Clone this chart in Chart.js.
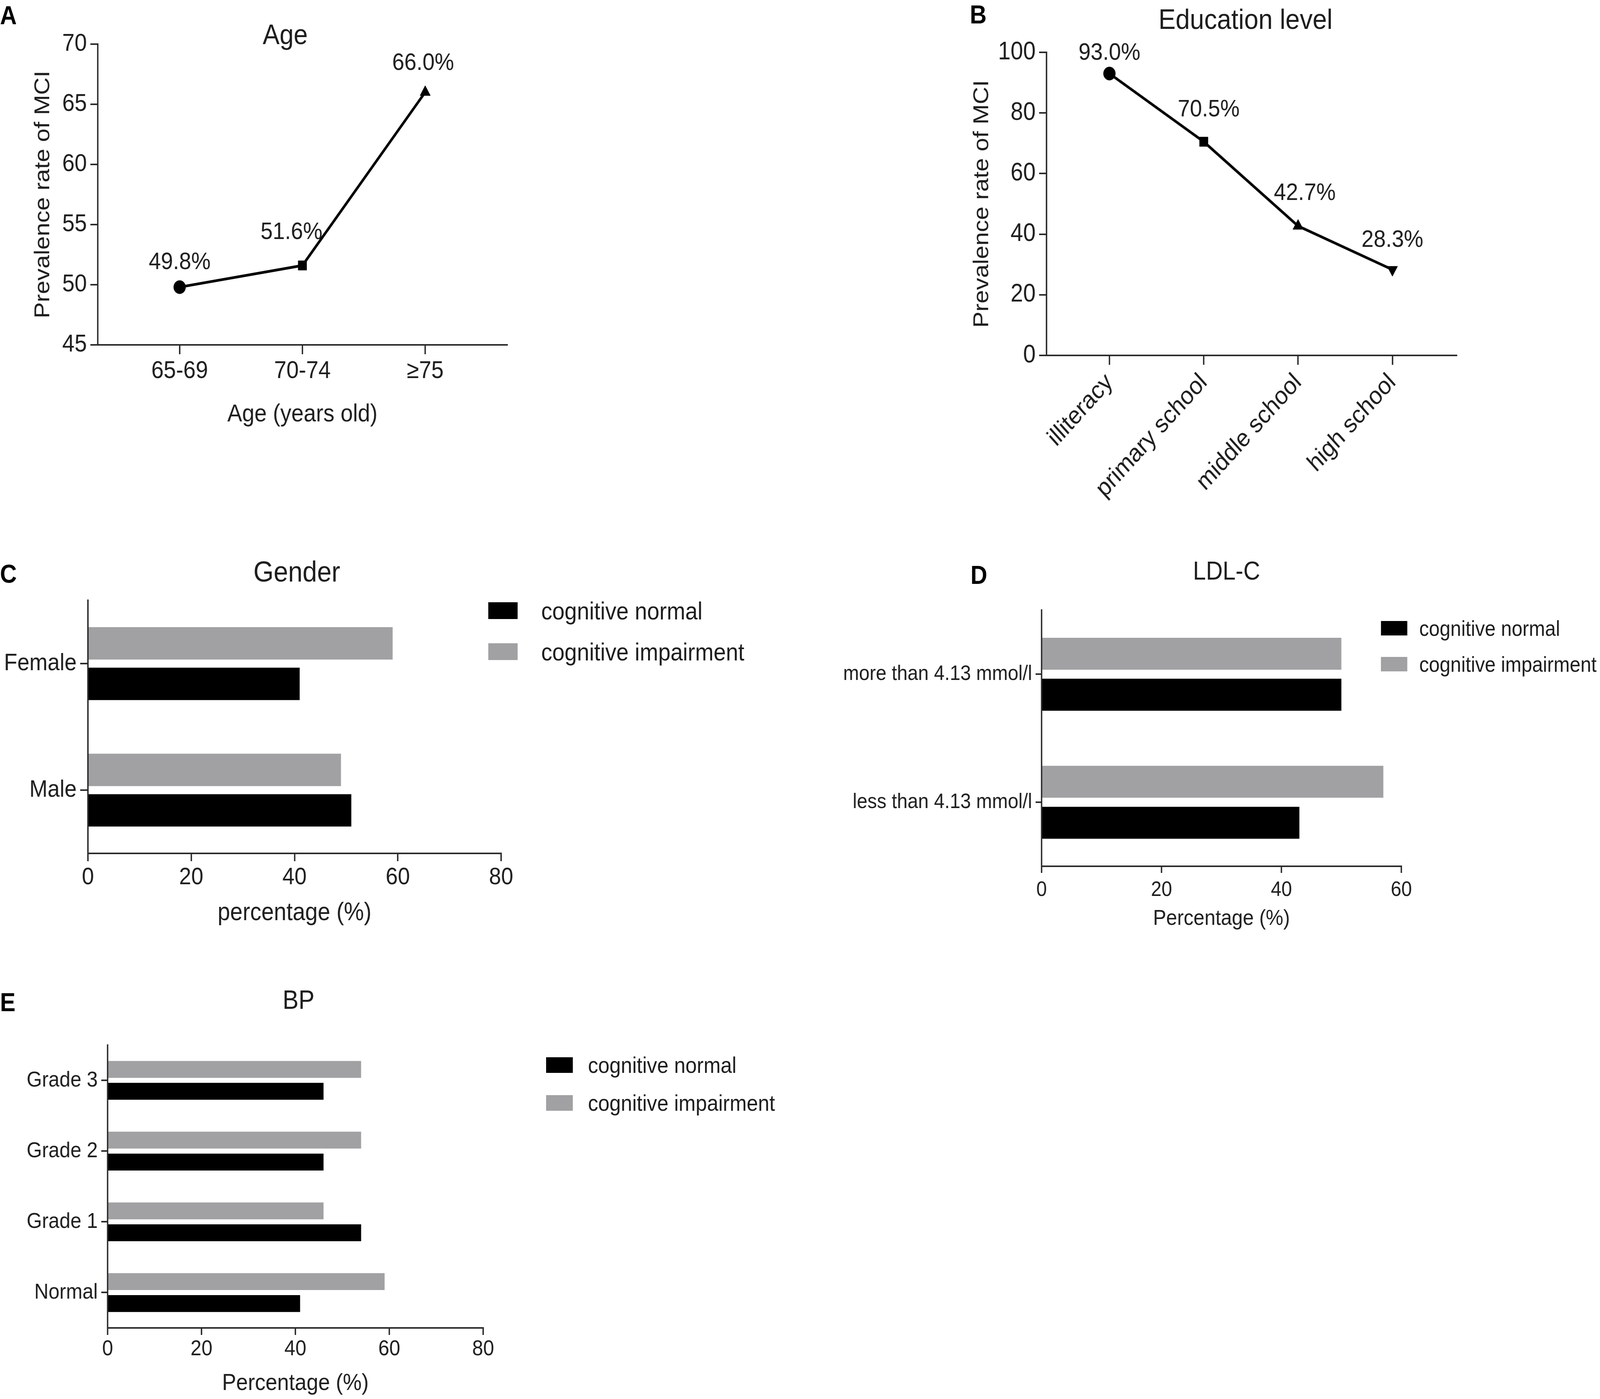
<!DOCTYPE html>
<html>
<head>
<meta charset="utf-8">
<title>Prevalence of MCI</title>
<script src="https://cdn.jsdelivr.net/npm/chart.js@4.4.1/dist/chart.umd.min.js"></script>
<style>
  html, body { margin: 0; padding: 0; background: #fff; overflow: hidden; }
  body { font-family: 'Liberation Sans', Arial, Helvetica, sans-serif; color: #1e1e1e; }
  #page { position: absolute; left: 0; top: 0; width: 4550px; height: 3582px; overflow: hidden;
          transform-origin: 0 0; background: #fff; }
  canvas { position: absolute; }
  .letter { position: absolute; font-weight: bold; font-size: 66px; line-height: 1; color: #000; }
  .title { position: absolute; line-height: 1; white-space: nowrap; transform: translate(-50%, -50%); }
  .key { position: absolute; z-index: 2; }
  .key .box { position: absolute; }
  .key .txt { position: absolute; line-height: 1; white-space: nowrap; transform: translateY(-50%); }
</style>
</head>
<body>
<div id="page">
<div class="letter" style="left:0px;top:6px">A</div>
<div class="letter" style="left:2758px;top:4px">B</div>
<div class="letter" style="left:0px;top:1436px">C</div>
<div class="letter" style="left:2760px;top:1439px">D</div>
<div class="letter" style="left:0px;top:2533px">E</div>

<canvas id="ageChart"></canvas>
<canvas id="eduChart"></canvas>
<canvas id="genderChart"></canvas>
<canvas id="ldlChart"></canvas>
<canvas id="bpChart"></canvas>
</div>

<script>
// A: prevalence by age group
var ageLabels = ['65-69', '70-74', '\u226575'];
var ageRates = [49.8, 51.6, 66.0];

// B: prevalence by education level
var eduLabels = ['illiteracy', 'primary school', 'middle school', 'high school'];
var eduRates = [93.0, 70.5, 42.7, 28.3];

// C-E: share of each group (%)
var seriesNames = ['cognitive normal', 'cognitive impairment'];

var genderLabels = ['Female', 'Male'];
var genderNormal = [41, 51];
var genderImpaired = [59, 49];

var ldlLabels = ['more than 4.13 mmol/l', 'less than 4.13 mmol/l'];
var ldlNormal = [50, 43];
var ldlImpaired = [50, 57];

var bpLabels = ['Grade 3', 'Grade 2', 'Grade 1', 'Normal'];
var bpNormal = [46, 46, 54, 41];
var bpImpaired = [54, 54, 46, 59];

var FONT = "'Liberation Sans', Arial, Helvetica, sans-serif";
var INK = '#1e1e1e';
var AXIS = '#2b2b2b';
var BLACK = '#000000';
var GREY = '#a1a1a4';
var PAGE_W = 4550, PAGE_H = 3582;

Chart.defaults.font.family = FONT;
Chart.defaults.color = INK;

var page = document.getElementById('page');

// plot areas in page pixels
var layout = {
    age:    { left: 278,  top: 113,  right: 1442, bottom: 883,  yW: 192, xH: 216, padTop: 100, padRight: 60 },
    edu:    { left: 2976, top: 134,  right: 4142, bottom: 910,  yW: 220, xH: 420, padTop: 100, padRight: 60 },
    gender: { left: 250,  top: 1530, right: 1425, bottom: 2185, yW: 250, xH: 192, padTop: 40,  padRight: 60 },
    ldl:    { left: 2962, top: 1560, right: 3985, bottom: 2218, yW: 600, xH: 168, padTop: 40,  padRight: 60 },
    bp:     { left: 306,  top: 2672, right: 1374, bottom: 3400, yW: 300, xH: 178, padTop: 40,  padRight: 60 }
};

function placeCanvas(id, box) {
    var c = document.getElementById(id);
    c.width = box.yW + (box.right - box.left) + box.padRight;
    c.height = box.padTop + (box.bottom - box.top) + box.xH;
    c.style.left = (box.left - box.yW) + 'px';
    c.style.top = (box.top - box.padTop) + 'px';
    return c;
}

function addText(cls, text, x, y, size) {
    var d = document.createElement('div');
    d.className = cls;
    d.textContent = text;
    d.style.left = x + 'px';
    d.style.top = y + 'px';
    d.style.fontSize = size + 'px';
    page.appendChild(d);
}

function addKey(left, tops, boxW, boxH, textLeft, size) {
    var colors = [BLACK, GREY];
    var key = document.createElement('div');
    key.className = 'key';
    key.style.left = '0px';
    key.style.top = '0px';
    seriesNames.forEach(function (name, i) {
        var b = document.createElement('div');
        b.className = 'box';
        b.style.left = left + 'px';
        b.style.top = tops[i] + 'px';
        b.style.width = boxW + 'px';
        b.style.height = boxH + 'px';
        b.style.background = colors[i];
        key.appendChild(b);
        var t = document.createElement('div');
        t.className = 'txt';
        t.textContent = name;
        t.style.left = textLeft + 'px';
        t.style.top = (tops[i] + boxH / 2) + 'px';
        t.style.fontSize = size + 'px';
        key.appendChild(t);
    });
    page.appendChild(key);
}

function gridStyle(tickLen) {
    return { display: true, drawOnChartArea: false, drawTicks: true, tickLength: tickLen,
             color: AXIS, lineWidth: 4 };
}

// writes "xx.x%" above every point of the first dataset
var pointLabels = {
    id: 'pointLabels',
    afterDatasetsDraw: function (chart, args, opts) {
        var ctx = chart.ctx;
        var meta = chart.getDatasetMeta(0);
        var values = chart.data.datasets[0].data;
        ctx.save();
        ctx.font = opts.size + 'px ' + FONT;
        ctx.fillStyle = INK;
        ctx.textAlign = 'center';
        ctx.textBaseline = 'middle';
        meta.data.forEach(function (pt, i) {
            ctx.fillText(values[i].y.toFixed(1) + '%', pt.x + opts.dx[i], pt.y + opts.dy[i]);
        });
        ctx.restore();
    }
};

function lineChart(id, box, labels, values, cfg) {
    var canvas = placeCanvas(id, box);
    return new Chart(canvas, {
        type: 'line',
        data: {
            datasets: [{
                data: values.map(function (v, i) { return { x: i, y: v }; }),
                borderColor: BLACK,
                backgroundColor: BLACK,
                borderWidth: 7,
                tension: 0,
                pointStyle: cfg.markers,
                pointRotation: cfg.rotation,
                pointRadius: 17,
                pointBackgroundColor: BLACK,
                pointBorderColor: BLACK,
                pointBorderWidth: 1,
                clip: false
            }]
        },
        options: {
            responsive: false,
            animation: false,
            devicePixelRatio: 1,
            layout: { padding: { top: box.padTop, right: box.padRight, left: 0, bottom: 0 } },
            plugins: {
                legend: { display: false },
                tooltip: { enabled: false },
                pointLabels: cfg.labels
            },
            scales: {
                x: {
                    type: 'linear',
                    min: cfg.xMin,
                    max: cfg.xMax,
                    afterBuildTicks: function (axis) {
                        axis.ticks = labels.map(function (l, i) { return { value: i }; });
                    },
                    afterFit: function (s) { s.height = box.xH; },
                    grid: gridStyle(24),
                    border: { display: true, color: AXIS, width: 4 },
                    ticks: {
                        autoSkip: false,
                        padding: cfg.xPad,
                        minRotation: cfg.xRot,
                        maxRotation: cfg.xRot,
                        font: { size: cfg.xFont },
                        color: INK,
                        callback: function (v) { return labels[v]; }
                    },
                    title: cfg.xTitle ? { display: true, text: cfg.xTitle, font: { size: 63 },
                                          color: INK, padding: 0 } : { display: false }
                },
                y: {
                    min: cfg.yMin,
                    max: cfg.yMax,
                    afterFit: function (s) { s.width = box.yW; },
                    grid: gridStyle(21),
                    border: { display: true, color: AXIS, width: 4 },
                    ticks: { stepSize: cfg.yStep, padding: 10, font: { size: cfg.yFont }, color: INK },
                    title: { display: true, text: 'Prevalence rate of MCI', font: { size: 62 },
                             color: INK, padding: 0 }
                }
            }
        },
        plugins: [pointLabels]
    });
}

function barChart(id, box, labels, normal, impaired, cfg) {
    var canvas = placeCanvas(id, box);
    return new Chart(canvas, {
        type: 'bar',
        data: {
            labels: labels,
            datasets: [
                { label: seriesNames[1], data: impaired, backgroundColor: GREY, borderWidth: 0,
                  categoryPercentage: cfg.catPct, barPercentage: cfg.barPct },
                { label: seriesNames[0], data: normal, backgroundColor: BLACK, borderWidth: 0,
                  categoryPercentage: cfg.catPct, barPercentage: cfg.barPct }
            ]
        },
        options: {
            indexAxis: 'y',
            responsive: false,
            animation: false,
            devicePixelRatio: 1,
            layout: { padding: { top: box.padTop, right: box.padRight, left: 0, bottom: 0 } },
            plugins: { legend: { display: false }, tooltip: { enabled: false } },
            scales: {
                x: {
                    min: 0,
                    max: cfg.xMax,
                    afterFit: function (s) { s.height = box.xH; },
                    grid: gridStyle(cfg.xTick),
                    border: { display: true, color: AXIS, width: 4 },
                    ticks: { stepSize: 20, padding: cfg.xPad, font: { size: cfg.tickFont }, color: INK },
                    title: { display: true, text: cfg.xTitle, font: { size: cfg.titleFont },
                             color: INK, padding: 0 }
                },
                y: {
                    afterFit: function (s) { s.width = box.yW; },
                    grid: Object.assign(gridStyle(cfg.yTick), { offset: false }),
                    border: { display: true, color: AXIS, width: 4 },
                    ticks: { padding: 10, font: { size: cfg.tickFont }, color: INK }
                }
            }
        }
    });
}

lineChart('ageChart', layout.age, ageLabels, ageRates, {
    xMin: -0.667, xMax: 2.667, yMin: 45, yMax: 70, yStep: 5,
    xRot: 0, xPad: 6, xFont: 63, yFont: 63,
    xTitle: 'Age (years old)',
    markers: ['circle', 'rect', 'triangle'],
    rotation: [0, 0, 0],
    labels: { size: 62, dx: [0, -31, -6], dy: [-63, -85, -74] }
});

lineChart('eduChart', layout.edu, eduLabels, eduRates, {
    xMin: -0.667, xMax: 3.68, yMin: 0, yMax: 100, yStep: 20,
    xRot: 45, xPad: 8, xFont: 64, yFont: 64,
    xTitle: null,
    markers: ['circle', 'rect', 'triangle', 'triangle'],
    rotation: [0, 0, 0, 180],
    labels: { size: 62, dx: [0, 14, 19, 0], dy: [-52, -82, -84, -75] }
});

barChart('genderChart', layout.gender, genderLabels, genderNormal, genderImpaired, {
    xMax: 80, xTick: 20, yTick: 22, xPad: 5, tickFont: 62, titleFont: 64,
    xTitle: 'percentage (%)', catPct: 0.64, barPct: 0.8
});

barChart('ldlChart', layout.ldl, ldlLabels, ldlNormal, ldlImpaired, {
    xMax: 60, xTick: 17, yTick: 17, xPad: 12, tickFont: 54, titleFont: 56,
    xTitle: 'Percentage (%)', catPct: 0.64, barPct: 0.78
});

barChart('bpChart', layout.bp, bpLabels, bpNormal, bpImpaired, {
    xMax: 80, xTick: 18, yTick: 18, xPad: 3, tickFont: 56, titleFont: 60,
    xTitle: 'Percentage (%)', catPct: 0.62, barPct: 0.77
});

// panel titles
addText('title', 'Age', 811, 88, 72);
addText('title', 'Education level', 3542, 48, 73);
addText('title', 'Gender', 844, 1464, 74);
addText('title', 'LDL-C', 3488, 1461, 66);
addText('title', 'BP', 849, 2559, 68);

// legends
addKey(1388, [1542, 1647], 84, 43, 1539, 63);
addKey(3927, [1590, 1682], 75, 37, 4036, 55);
addKey(1553, [2707, 2804], 76, 40, 1672, 58);

// the browser viewport can be narrower than 4550px: stretch the page onto it
function fitPage() {
    var sx = window.innerWidth / PAGE_W;
    var sy = window.innerHeight / PAGE_H;
    page.style.transform = 'scale(' + sx + ',' + sy + ')';
}
fitPage();
window.addEventListener('resize', fitPage);
</script>
</body>
</html>
